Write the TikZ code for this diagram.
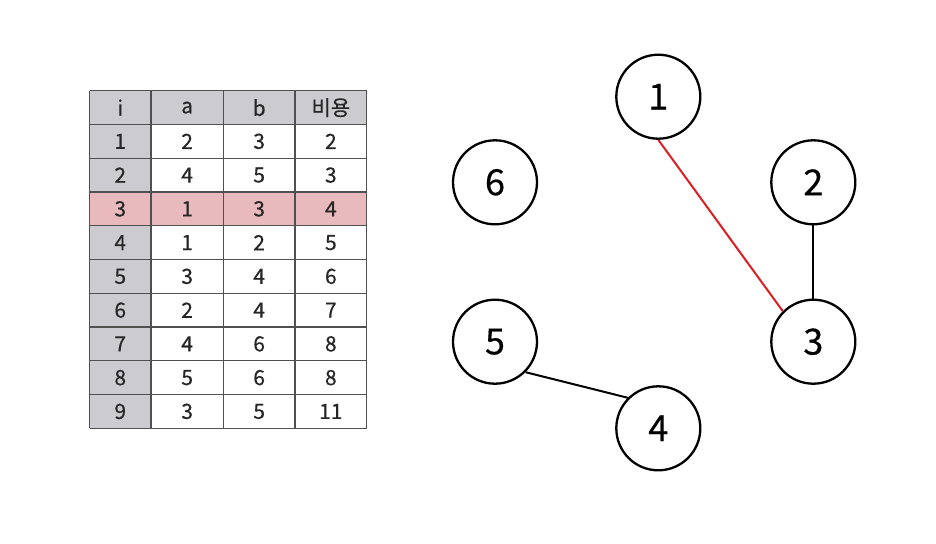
\documentclass[tikz,border=0pt]{standalone}
\usepackage{fontspec}
\setmainfont{Noto Sans CJK KR}[FakeBold=0.45]
\begin{document}
\begin{tikzpicture}[x=1pt,y=-1pt,
  cell/.style={inner sep=0pt, font=\fontsize{21}{21}\selectfont, text=black!85},
  vert/.style={circle, draw=black, line width=2.3pt, minimum size=84pt, inner sep=0pt, font=\fontsize{36}{36}\selectfont},
  edge/.style={line width=2pt},
  grid/.style={draw=tabline, line width=1.2pt},
]
\definecolor{hdr}{RGB}{204,204,208}
\definecolor{hil}{RGB}{232,186,190}
\definecolor{tabline}{RGB}{80,80,80}
\definecolor{redline}{RGB}{220,30,35}
\useasboundingbox (0,0) rectangle (936,543);
\fill[white] (0,0) rectangle (936,543);
\def\xa{89.5}\def\xb{151}\def\xc{223.3}\def\xd{295}\def\xe{366.7}
\def\rh{33.76}
\def\ytop{90.7}
% backgrounds
\fill[hdr] (\xa,\ytop) rectangle (\xe,\ytop+\rh);
\fill[hdr] (\xa,\ytop) rectangle (\xb,\ytop+10*\rh);
\fill[hil] (\xa,\ytop+3*\rh) rectangle (\xe,\ytop+4*\rh);
% grid
\foreach \k in {0,...,10} \draw[grid] (\xa,\ytop+\k*\rh) -- (\xe,\ytop+\k*\rh);
\foreach \xx in {\xa,\xb,\xc,\xd,\xe} \draw[grid] (\xx,\ytop) -- (\xx,\ytop+10*\rh);
% header
\foreach \txt/\xl/\xr/\nm in {i/\xa/\xb/h1, a/\xb/\xc/h2, b/\xc/\xd/h3, 비용/\xd/\xe/h4}{
  \node[cell] (\nm) at ({(\xl+\xr)/2},{\ytop+\rh/2}) {\txt};
}
\foreach \r/\va/\vb/\vc in {1/2/3/2, 2/4/5/3, 3/1/3/4, 4/1/2/5, 5/3/4/6, 6/2/4/7, 7/4/6/8, 8/5/6/8, 9/3/5/11}{
  \pgfmathsetmacro\yc{\ytop+\r*\rh+\rh/2}
  \node[cell] (r\r c1) at ({(\xa+\xb)/2},\yc) {\r};
  \node[cell] (r\r c2) at ({(\xb+\xc)/2},\yc) {\va};
  \node[cell] (r\r c3) at ({(\xc+\xd)/2},\yc) {\vb};
  \node[cell] (r\r c4) at ({(\xd+\xe)/2},\yc) {\vc};
}
% graph
\node[vert] (n1) at (658.3,96.7) {1};
\node[vert] (n6) at (495,182.3) {6};
\node[vert] (n2) at (813.3,182.3) {2};
\node[vert] (n5) at (495,341.7) {5};
\node[vert] (n3) at (813.3,341.7) {3};
\node[vert] (n4) at (658.3,428.3) {4};
\draw[edge, redline] (n1.south) -- (n3.north west);
\draw[edge] (n2) -- (n3);
\draw[edge] (n5.south east) -- (n4.north west);
\end{tikzpicture}
\end{document}
